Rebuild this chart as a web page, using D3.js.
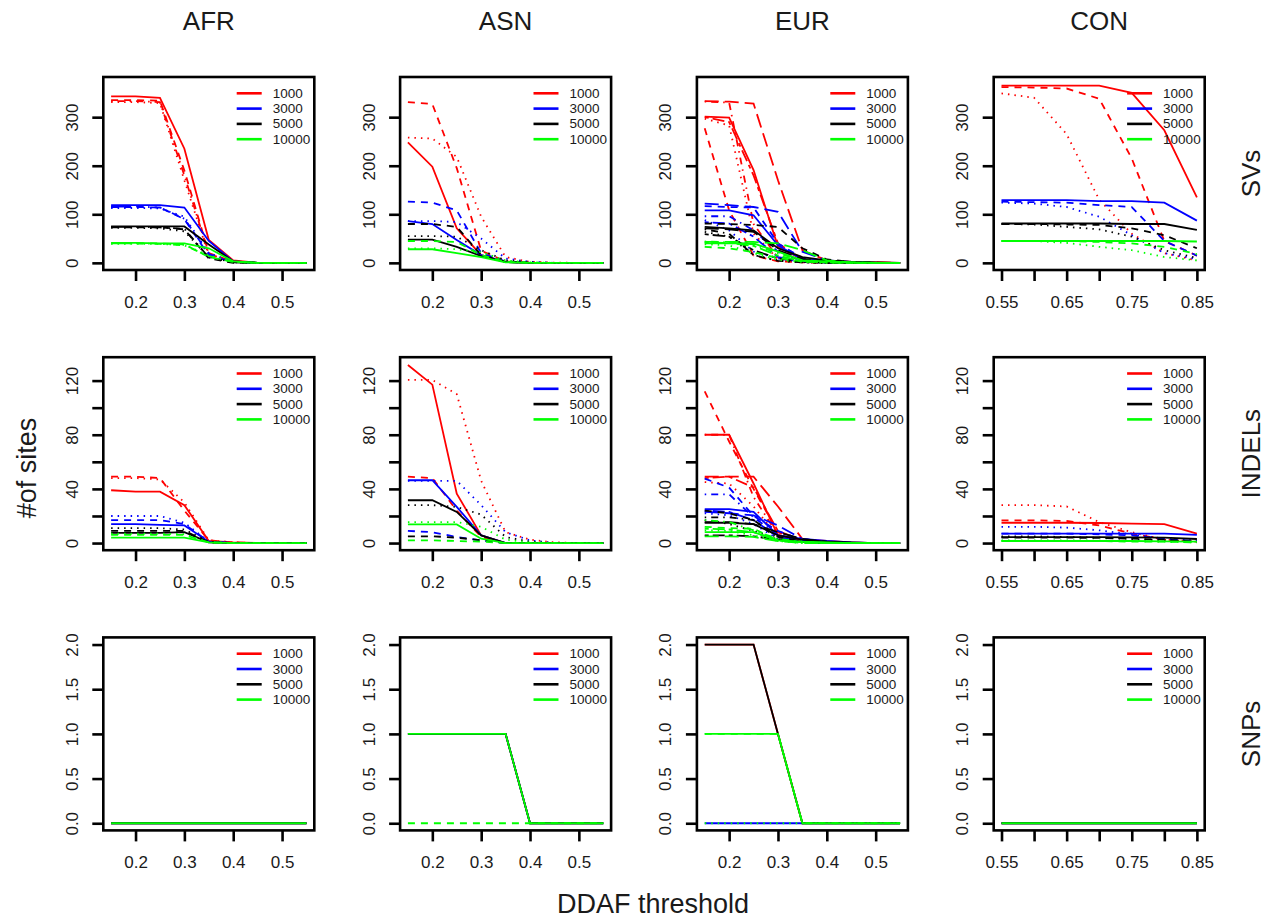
<!DOCTYPE html>
<html>
<head>
<meta charset="utf-8">
<script src="https://cdnjs.cloudflare.com/ajax/libs/d3/7.8.5/d3.min.js"></script>
<style>
  body { margin: 0; background: #fff; }
  text { font-family: "Liberation Sans", Arial, sans-serif; fill: #1a1a1a; }
  .tick text { font-size: 17px; }
</style>
</head>
<body>
<script>
// categories
const popNames = ["AFR", "ASN", "EUR", "CON"];
const typeNames = ["SVs", "INDELs", "SNPs"];
const sampleSizes = [1000, 3000, 5000, 10000];
const sizeColors = ["#FF0000", "#0000FF", "#000000", "#00FF00"];

// x values and ticks
const xDDAF = [0.15, 0.2, 0.25, 0.3, 0.35, 0.4, 0.45, 0.5, 0.55];
const xCON = [0.55, 0.6, 0.65, 0.7, 0.75, 0.8, 0.85];
const xTicksDDAF = [0.2, 0.3, 0.4, 0.5];
const xTicksCON = [0.55, 0.6, 0.65, 0.7, 0.75, 0.8, 0.85];
const xLabelsCON = ["0.55", "", "0.65", "", "0.75", "", "0.85"];

// y limits and ticks per row
const yMax = [368, 132, 2];
const yTicksSV = [0, 100, 200, 300];
const yTicksINDEL = [0, 20, 40, 60, 80, 100, 120];
const yLabelsINDEL = ["0", "", "40", "", "80", "", "120"];
const yTicksSNP = [0, 0.5, 1, 1.5, 2];

// series: [sample size, line type, values]
const svAFR = [
  [1000, "solid",   [343, 343, 340, 235, 47, 5, 0, 0, 0]],
  [1000, "dashed",  [335, 335, 334, 190, 20, 2, 0, 0, 0]],
  [1000, "dotted",  [331, 331, 329, 170, 15, 3, 0, 0, 0]],
  [1000, "dotdash", [333, 333, 331, 180, 18, 2, 0, 0, 0]],
  [3000, "solid",   [119, 119, 119, 114, 45, 3, 0, 0, 0]],
  [3000, "dashed",  [115, 115, 114, 90, 15, 2, 0, 0, 0]],
  [3000, "dotted",  [113, 113, 112, 95, 20, 2, 0, 0, 0]],
  [3000, "dotdash", [116, 116, 114, 91, 18, 2, 0, 0, 0]],
  [5000, "solid",   [75, 75, 75, 75, 38, 3, 0, 0, 0]],
  [5000, "dashed",  [73, 73, 73, 69, 9, 0, 0, 0, 0]],
  [5000, "dotted",  [72, 72, 71, 65, 12, 1, 0, 0, 0]],
  [5000, "dotdash", [74, 74, 73, 70, 11, 1, 0, 0, 0]],
  [10000, "solid",  [41, 41, 40, 40, 30, 3, 0, 0, 0]],
  [10000, "dashed", [40, 40, 40, 38, 12, 2, 0, 0, 0]],
  [10000, "dotted", [39, 39, 39, 37, 15, 2, 0, 0, 0]],
  [10000, "dotdash",[40, 40, 39, 36, 14, 2, 0, 0, 0]]
];
const svASN = [
  [1000, "solid",   [248, 198, 71, 16, 2, 0, 0, 0, 0]],
  [1000, "dashed",  [331, 327, 195, 25, 3, 0, 0, 0, 0]],
  [1000, "dotted",  [258, 256, 218, 95, 12, 2, 0.5, 0, 0]],
  [3000, "solid",   [86, 80, 47, 16, 2, 0, 0, 0, 0]],
  [3000, "dashed",  [126, 124, 108, 20, 3, 0, 0, 0, 0]],
  [3000, "dotted",  [86, 86, 84, 50, 9, 2, 0, 0, 0]],
  [5000, "solid",   [48, 48, 33, 14, 2, 0, 0, 0, 0]],
  [5000, "dashed",  [80, 80, 74, 16, 2, 0, 0, 0, 0]],
  [5000, "dotted",  [55, 55, 54, 26, 5, 1, 0, 0, 0]],
  [10000, "solid",  [28, 28, 20, 12, 1, 0, 0, 0, 0]],
  [10000, "dashed", [45, 45, 43, 16, 2, 0, 0, 0, 0]],
  [10000, "dotted", [30, 30, 28, 22, 5, 1, 0, 0, 0]]
];
const svEUR = [
  [1000, "solid",    [301, 299, 191, 33, 7, 4, 2, 1, 0]],
  [1000, "longdash", [333, 332, 328, 170, 26, 5, 2, 1, 0]],
  [1000, "dashed",   [277, 108, 15, 3, 1, 0, 0, 0, 0]],
  [1000, "dotdash",  [332, 330, 80, 10, 3, 1, 0, 0, 0]],
  [1000, "dotted",   [297, 283, 60, 8, 2, 0, 0, 0, 0]],
  [1000, "twodash",  [300, 290, 180, 40, 8, 3, 1, 0, 0]],
  [3000, "solid",    [108, 108, 98, 36, 7, 3, 1, 0, 0]],
  [3000, "longdash", [122, 119, 115, 105, 23, 5, 2, 0, 0]],
  [3000, "dashed",   [117, 115, 114, 40, 10, 2, 0, 0, 0]],
  [3000, "dotdash",  [96, 96, 67, 23, 4, 1, 0, 0, 0]],
  [3000, "dotted",   [88, 67, 23, 9, 2, 0, 0, 0, 0]],
  [3000, "twodash",  [84, 81, 54, 12, 3, 1, 0, 0, 0]],
  [5000, "solid",    [74, 71, 67, 30, 12, 5, 2, 1, 0]],
  [5000, "dashed",   [81, 80, 78, 74, 30, 7, 2, 0, 0]],
  [5000, "dotdash",  [69, 60, 16, 4, 1, 0, 0, 0, 0]],
  [5000, "dotted",   [64, 54, 16, 5, 1, 0, 0, 0, 0]],
  [5000, "longdash", [71, 69, 64, 26, 8, 2, 0, 0, 0]],
  [5000, "twodash",  [59, 54, 26, 9, 2, 0, 0, 0, 0]],
  [10000, "solid",   [40, 40, 40, 23, 5, 3, 1, 0, 0]],
  [10000, "longdash",[43, 43, 43, 40, 26, 5, 1, 0, 0]],
  [10000, "dashed",  [33, 30, 22, 10, 3, 1, 0, 0, 0]],
  [10000, "dotdash", [44, 42, 38, 20, 4, 1, 0, 0, 0]],
  [10000, "dotted",  [38, 36, 20, 6, 2, 0, 0, 0, 0]],
  [10000, "twodash", [42, 41, 35, 15, 3, 1, 0, 0, 0]]
];
const svCON = [
  [1000, "solid",   [365, 365, 365, 365, 350, 273, 135]],
  [1000, "dashed",  [362, 361, 359, 338, 215, 45, 15]],
  [1000, "dotted",  [349, 340, 265, 130, 60, 20, 5]],
  [3000, "solid",   [129, 129, 129, 127, 127, 124, 87]],
  [3000, "dashed",  [126, 125, 124, 119, 115, 45, 15]],
  [3000, "dotted",  [124, 122, 115, 95, 57, 20, 8]],
  [5000, "solid",   [81, 81, 81, 81, 80, 80, 68]],
  [5000, "dashed",  [80, 80, 79, 78, 71, 57, 30]],
  [5000, "dotted",  [80, 79, 74, 69, 54, 26, 10]],
  [10000, "solid",  [45, 45, 45, 45, 45, 45, 44]],
  [10000, "dashed", [45, 45, 45, 43, 40, 33, 18]],
  [10000, "dotted", [45, 45, 41, 33, 26, 12, 5]]
];
const indelAFR = [
  [1000, "solid",   [39, 38, 38, 28, 1.5, 0.5, 0, 0, 0]],
  [1000, "dashed",  [49, 49, 48, 24, 2, 0.5, 0, 0, 0]],
  [1000, "dotted",  [48, 48, 47, 30, 2, 0.5, 0, 0, 0]],
  [3000, "solid",   [14, 14, 13.5, 13, 1, 0, 0, 0, 0]],
  [3000, "dashed",  [17, 17, 17, 14, 1, 0, 0, 0, 0]],
  [3000, "dotted",  [20, 20, 20, 15, 1, 0, 0, 0, 0]],
  [5000, "solid",   [7.5, 7.5, 7.5, 8, 0.5, 0, 0, 0, 0]],
  [5000, "dashed",  [9, 9, 9, 9, 0.5, 0, 0, 0, 0]],
  [5000, "dotted",  [11, 11, 11, 10, 1, 0, 0, 0, 0]],
  [10000, "solid",  [4, 4, 4, 4, 0.5, 0, 0, 0, 0]],
  [10000, "dashed", [6, 6, 6, 6, 0.5, 0, 0, 0, 0]],
  [10000, "dotted", [7, 7, 7, 6.5, 0.5, 0, 0, 0, 0]]
];
const indelASN = [
  [1000, "solid",   [131.5, 117, 36.5, 5.7, 0, 0, 0, 0, 0]],
  [1000, "dashed",  [49, 48, 24, 4.5, 0, 0, 0, 0, 0]],
  [1000, "dotted",  [120.5, 120.5, 110, 46, 8, 2.5, 0.5, 0, 0]],
  [3000, "solid",   [46.4, 46.4, 26.7, 5.7, 0, 0, 0, 0, 0]],
  [3000, "dashed",  [9, 8, 4.5, 2, 0, 0, 0, 0, 0]],
  [3000, "dotted",  [46, 46, 46, 28, 8, 2, 0, 0, 0]],
  [5000, "solid",   [31.6, 31.6, 23, 5.7, 0, 0, 0, 0, 0]],
  [5000, "dashed",  [5, 5, 4, 2, 0, 0, 0, 0, 0]],
  [5000, "dotted",  [28, 28, 26.7, 21, 4.5, 1, 0, 0, 0]],
  [10000, "solid",  [13.8, 13.8, 13.8, 3.2, 0, 0, 0, 0, 0]],
  [10000, "dashed", [2, 2, 1.5, 1, 0, 0, 0, 0, 0]],
  [10000, "dotted", [15.5, 15.5, 15.5, 12, 2.5, 0.5, 0, 0, 0]]
];
const indelEUR = [
  [1000, "solid",    [80, 80, 44, 5.7, 2.5, 1.5, 0.5, 0, 0]],
  [1000, "dashed",   [112, 75, 40, 8, 2, 1, 0, 0, 0]],
  [1000, "longdash", [49, 49, 49, 27, 3, 1, 0, 0, 0]],
  [1000, "dotdash",  [80, 80, 34, 6, 2, 0, 0, 0, 0]],
  [1000, "dotted",   [45, 44, 27, 4.5, 1, 0, 0, 0, 0]],
  [1000, "twodash",  [48, 49, 41, 9, 2, 0, 0, 0, 0]],
  [3000, "solid",    [25, 25, 23, 5.7, 3, 1.5, 0.5, 0, 0]],
  [3000, "dashed",   [47.6, 41, 20, 9, 2, 0, 0, 0, 0]],
  [3000, "dotdash",  [36, 36, 19, 6, 1, 0, 0, 0, 0]],
  [3000, "longdash", [23, 22, 20.5, 13, 3, 1, 0, 0, 0]],
  [3000, "dotted",   [22, 20.5, 14, 3, 1, 0, 0, 0, 0]],
  [3000, "twodash",  [24, 23, 17, 4.5, 1, 0, 0, 0, 0]],
  [5000, "solid",    [15, 15, 14, 5.7, 2.5, 1, 0.5, 0, 0]],
  [5000, "dashed",   [24, 22, 17, 4.5, 1, 0, 0, 0, 0]],
  [5000, "dotdash",  [19, 19, 17, 3, 1, 0, 0, 0, 0]],
  [5000, "dotted",   [17, 14, 9, 2.5, 0.5, 0, 0, 0, 0]],
  [5000, "longdash", [15.5, 15.5, 14, 8, 3, 1, 0, 0, 0]],
  [5000, "twodash",  [5.7, 5.7, 5, 2.5, 1, 0, 0, 0, 0]],
  [10000, "solid",   [8, 8, 8, 2, 1, 0.5, 0, 0, 0]],
  [10000, "dashed",  [12, 11, 10.6, 2, 0.5, 0, 0, 0, 0]],
  [10000, "longdash",[5, 5, 4.5, 1.5, 0, 0, 0, 0, 0]],
  [10000, "dotdash", [17, 15.5, 9.4, 3, 1, 0, 0, 0, 0]],
  [10000, "dotted",  [9.4, 9, 5.7, 1.5, 0, 0, 0, 0, 0]],
  [10000, "twodash", [10.6, 10, 8, 2, 0.5, 0, 0, 0, 0]]
];
const indelCON = [
  [1000, "solid",   [15, 15, 15, 14.8, 14.3, 14, 7]],
  [1000, "dashed",  [16.8, 16.8, 16.3, 13, 7, 2.5, 1]],
  [1000, "dotted",  [28, 28, 27, 15.5, 8, 2.5, 1]],
  [3000, "solid",   [7, 7, 7, 7, 7, 7, 6]],
  [3000, "dashed",  [7, 7, 7, 6.4, 5.7, 3, 1.5]],
  [3000, "dotted",  [12, 12, 11.4, 9.4, 6.4, 3.2, 2]],
  [5000, "solid",   [4.4, 4.4, 4.4, 4.4, 4.2, 4, 3]],
  [5000, "dashed",  [4, 4, 4, 3.8, 3.2, 2.5, 1]],
  [5000, "dotted",  [5, 5, 4.4, 4, 3, 2, 1]],
  [10000, "solid",  [1.5, 1.5, 1.5, 1.5, 1.5, 1.2, 1]],
  [10000, "dashed", [1.5, 1.5, 1.5, 1.5, 1, 1, 0.5]],
  [10000, "dotted", [2, 2, 2, 1.8, 1.5, 1, 0.5]]
];
const snpAFR = [
  [1000, "solid",  [0, 0, 0, 0, 0, 0, 0, 0, 0]],
  [3000, "solid",  [0, 0, 0, 0, 0, 0, 0, 0, 0]],
  [5000, "solid",  [0, 0, 0, 0, 0, 0, 0, 0, 0]],
  [10000, "solid", [0, 0, 0, 0, 0, 0, 0, 0, 0]]
];
const snpASN = [
  [1000, "solid",   [1, 1, 1, 1, 1, 0, 0, 0, 0]],
  [3000, "solid",   [1, 1, 1, 1, 1, 0, 0, 0, 0]],
  [5000, "solid",   [1, 1, 1, 1, 1, 0, 0, 0, 0]],
  [10000, "solid",  [1, 1, 1, 1, 1, 0, 0, 0, 0]],
  [10000, "dashed", [0, 0, 0, 0, 0, 0, 0, 0, 0]]
];
const snpEUR = [
  [1000, "solid",   [2, 2, 2, 1, 0, 0, 0, 0, 0]],
  [3000, "solid",   [0, 0, 0, 0, 0, 0, 0, 0, 0]],
  [5000, "solid",   [2, 2, 2, 1, 0, 0, 0, 0, 0]],
  [10000, "dotted", [0, 0, 0, 0, 0, 0, 0, 0, 0]],
  [10000, "solid",  [1, 1, 1, 1, 0, 0, 0, 0, 0]],
  [10000, "dashed", [1, 1, 1, 1, 0, 0, 0, 0, 0]]
];
const snpCON = [
  [1000, "solid",  [0, 0, 0, 0, 0, 0, 0]],
  [3000, "solid",  [0, 0, 0, 0, 0, 0, 0]],
  [5000, "solid",  [0, 0, 0, 0, 0, 0, 0]],
  [10000, "solid", [0, 0, 0, 0, 0, 0, 0]]
];

const panelSeries = [
  [svAFR, svASN, svEUR, svCON],
  [indelAFR, indelASN, indelEUR, indelCON],
  [snpAFR, snpASN, snpEUR, snpCON]
];

// R-like dash patterns
const dashes = {
  solid: null,
  dashed: "7,6",
  dotted: "1.5,5",
  dotdash: "1.5,5,7,5",
  longdash: "14,6",
  twodash: "4,4,12,4"
};

window.onload = function() {
  const svg = d3.select("body").append("svg")
    .attr("width", 1280)
    .attr("height", 922);

  const plotW = 211, plotH = 193;
  const colStep = 296.8, rowStep = 280.2;
  const left0 = 103.3, top0 = 77;

  // column titles
  popNames.forEach((p, i) => {
    svg.append("text")
      .attr("x", left0 + i * colStep + plotW / 2)
      .attr("y", 30)
      .attr("text-anchor", "middle")
      .style("font-size", "26px")
      .text(p);
  });

  // row labels on the right
  typeNames.forEach((t, j) => {
    svg.append("text")
      .attr("transform", "translate(1251," + (top0 + j * rowStep + plotH / 2) + ") rotate(-90)")
      .attr("text-anchor", "middle")
      .attr("dominant-baseline", "central")
      .style("font-size", "26px")
      .text(t);
  });

  svg.append("text")
    .attr("transform", "translate(27,468) rotate(-90)")
    .attr("text-anchor", "middle")
    .attr("dominant-baseline", "central")
    .style("font-size", "27px")
    .text("#of sites");

  svg.append("text")
    .attr("x", 653)
    .attr("y", 913)
    .attr("text-anchor", "middle")
    .style("font-size", "27px")
    .text("DDAF threshold");

  for (let j = 0; j < 3; j++) {
    for (let i = 0; i < 4; i++) {
      drawPanel(svg, i, j, left0 + i * colStep, top0 + j * rowStep, plotW, plotH);
    }
  }
};

function drawPanel(svg, i, j, left, top, w, h) {
  const isCon = i === 3;
  const xs = isCon ? xCON : xDDAF;
  const xMin = d3.min(xs), xMax = d3.max(xs);
  const xPad = (xMax - xMin) * 0.04;
  const xScale = d3.scaleLinear()
    .domain([xMin - xPad, xMax + xPad])
    .range([left, left + w]);

  const ym = yMax[j];
  const yScale = d3.scaleLinear()
    .domain([-ym * 0.04, ym * 1.04])
    .range([top + h, top]);

  const g = svg.append("g");

  // data lines
  const line = d3.line()
    .x((d, k) => xScale(xs[k]))
    .y(d => yScale(d));

  panelSeries[j][i].forEach(s => {
    const ci = sampleSizes.indexOf(s[0]);
    g.append("path")
      .datum(s[2])
      .attr("d", line)
      .attr("fill", "none")
      .attr("stroke", sizeColors[ci])
      .attr("stroke-width", 1.8)
      .attr("stroke-dasharray", dashes[s[1]]);
  });

  // x axis
  const xTicks = isCon ? xTicksCON : xTicksDDAF;
  const xAxis = d3.axisBottom(xScale)
    .tickValues(xTicks)
    .tickSize(11)
    .tickFormat((d, k) => isCon ? xLabelsCON[k] : d3.format(".1f")(d));
  const gx = g.append("g")
    .attr("transform", "translate(0," + (top + h) + ")")
    .call(xAxis)
    .attr("font-size", 17)
    .attr("font-family", "Liberation Sans, Arial, sans-serif");
  gx.select(".domain").remove();
  gx.selectAll("line").attr("stroke", "#000").attr("stroke-width", 2.6);
  gx.selectAll("text")
    .attr("y", 32)
    .attr("dy", null)
    .attr("dominant-baseline", "central")
    .attr("font-size", 17)
    .attr("fill", "#1a1a1a");

  // y axis
  let yTicks, yFmt;
  if (j === 0) { yTicks = yTicksSV; yFmt = d => String(d); }
  else if (j === 1) { yTicks = yTicksINDEL; yFmt = (d, k) => yLabelsINDEL[k]; }
  else { yTicks = yTicksSNP; yFmt = d => d3.format(".1f")(d); }
  const yAxis = d3.axisLeft(yScale)
    .tickValues(yTicks)
    .tickSize(11)
    .tickFormat(yFmt);
  const gy = g.append("g")
    .attr("transform", "translate(" + left + ",0)")
    .call(yAxis)
    .attr("font-size", 17)
    .attr("font-family", "Liberation Sans, Arial, sans-serif");
  gy.select(".domain").remove();
  gy.selectAll("line").attr("stroke", "#000").attr("stroke-width", 2.6);
  gy.selectAll("text")
    .attr("x", null)
    .attr("dy", null)
    .attr("transform", "translate(-31,0) rotate(-90)")
    .attr("text-anchor", "middle")
    .attr("dominant-baseline", "central")
    .attr("font-size", 17)
    .attr("fill", "#1a1a1a");

  // box
  g.append("rect")
    .attr("x", left)
    .attr("y", top)
    .attr("width", w)
    .attr("height", h)
    .attr("fill", "none")
    .attr("stroke", "#000")
    .attr("stroke-width", 2.6);

  // legend
  sampleSizes.forEach((n, k) => {
    const ly = top + 16.3 + k * 15.3;
    g.append("line")
      .attr("x1", left + 133.4)
      .attr("x2", left + 158.4)
      .attr("y1", ly)
      .attr("y2", ly)
      .attr("stroke", sizeColors[k])
      .attr("stroke-width", 2.6);
    g.append("text")
      .attr("x", left + 169.4)
      .attr("y", ly)
      .attr("dominant-baseline", "central")
      .style("font-size", "13.5px")
      .text(n);
  });
}
</script>
</body>
</html>
